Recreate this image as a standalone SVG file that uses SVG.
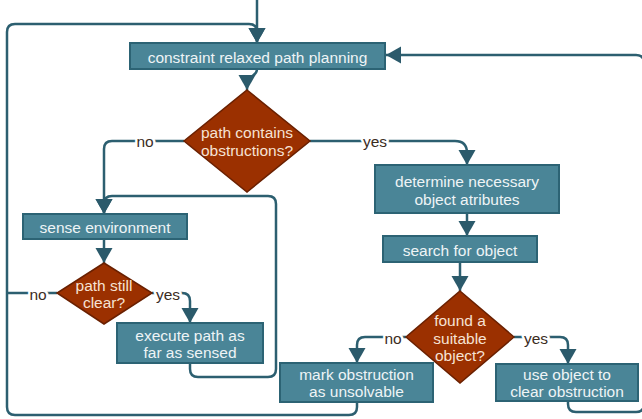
<svg xmlns="http://www.w3.org/2000/svg" width="642" height="419" viewBox="0 0 642 419">
<style>
.box{fill:#4a8597;stroke:#2c6374;stroke-width:2}
.dia{fill:#9b3000;stroke:#6a2000;stroke-width:1.5}
.bt{font-family:"Liberation Sans",Arial,sans-serif;font-size:15.5px;fill:#eef4f6;text-anchor:middle}
.dt{font-family:"Liberation Sans",Arial,sans-serif;font-size:15.5px;fill:#f6e2d4;text-anchor:middle}
.lb{font-family:"Liberation Sans",Arial,sans-serif;font-size:15.5px;fill:#3b2c1e;text-anchor:middle;stroke:#ffffff;stroke-width:5;paint-order:stroke;stroke-linejoin:round}
.ln{fill:none;stroke:#2c5f70;stroke-width:2.5}
.ar{fill:none;stroke:#2c5f70;stroke-width:2.5;marker-end:url(#ah)}
</style>
<defs>
<marker id="ah" markerUnits="userSpaceOnUse" markerWidth="16" markerHeight="18" viewBox="0 0 16 18" refX="15" refY="9" orient="auto">
<path d="M0,0.5 L15,9 L0,17.5 Z" fill="#2b5a6b"/>
</marker>
</defs>
<g id="connectors">
<path class="ar" d="M257,0 V43"/>
<path class="ar" d="M357,402 V407 Q357,415 349,415 H15 Q7,415 7,407 V32 Q7,24 15,24 H249 Q257,24 257,32 V43"/>
<path class="ar" d="M568,401 V404 Q568,412 576,412 H636 Q644,412 644,404 V63 Q644,55 636,55 H386"/>
<path class="ar" d="M257,69 C257,78 247,72 247,90"/>
<path class="ar" d="M184,141 H112 Q104,141 104,149 V214"/>
<path class="ar" d="M310,141 H455 Q467,141 467,153 V165"/>
<path class="ar" d="M467,213 V236"/>
<path class="ar" d="M460,262 V291"/>
<path class="ar" d="M406,337 H365 Q357,337 357,345 V363"/>
<path class="ar" d="M514,337 H560 Q568,337 568,345 V364"/>
<path class="ar" d="M104,239 V263"/>
<path class="ln" d="M57,293 H7"/>
<path class="ar" d="M152,293 H182 Q190,293 190,301 V323"/>
<path class="ar" d="M190,363 V369 Q190,377 198,377 H268 Q276,377 276,369 V204 Q276,196 268,196 H112 Q104,196 104,204 V214"/>
<text class="lb" x="145" y="147">no</text>
<text class="lb" x="375" y="147">yes</text>
<text class="lb" x="393" y="344">no</text>
<text class="lb" x="536" y="344">yes</text>
<text class="lb" x="38" y="300">no</text>
<text class="lb" x="168" y="300">yes</text>
</g>
<g id="n1">
<rect class="box" x="130" y="43" width="255" height="26"/>
<text class="bt" x="257.5" y="63">constraint relaxed path planning</text>
</g>
<g id="n2">
<polygon class="dia" points="247,90 310,141 247,192 184,141"/>
<text class="dt" x="247" y="138">path contains</text>
<text class="dt" x="247" y="156">obstructions?</text>
</g>
<g id="n3">
<rect class="box" x="375" y="165" width="184" height="48"/>
<text class="bt" x="467" y="187">determine necessary</text>
<text class="bt" x="467" y="205">object atributes</text>
</g>
<g id="n4">
<rect class="box" x="383" y="236" width="154" height="26"/>
<text class="bt" x="460" y="256">search for object</text>
</g>
<g id="n5">
<polygon class="dia" points="460,291 514,337 460,383 406,337"/>
<text class="dt" x="460" y="326">found a</text>
<text class="dt" x="460" y="344">suitable</text>
<text class="dt" x="460" y="361">object?</text>
</g>
<g id="n6">
<rect class="box" x="280" y="363" width="153" height="39"/>
<text class="bt" x="356.5" y="380">mark obstruction</text>
<text class="bt" x="356.5" y="397">as unsolvable</text>
</g>
<g id="n7">
<rect class="box" x="496" y="364" width="142" height="37"/>
<text class="bt" x="567" y="380">use object to</text>
<text class="bt" x="567" y="397">clear obstruction</text>
</g>
<g id="n8">
<rect class="box" x="23" y="214" width="164" height="25"/>
<text class="bt" x="105" y="233">sense environment</text>
</g>
<g id="n9">
<polygon class="dia" points="104,263 152,293 104,324 57,293"/>
<text class="dt" x="104" y="291">path still</text>
<text class="dt" x="104" y="308">clear?</text>
</g>
<g id="n10">
<rect class="box" x="117" y="323" width="146" height="40"/>
<text class="bt" x="190" y="341">execute path as</text>
<text class="bt" x="190" y="358">far as sensed</text>
</g>
</svg>
